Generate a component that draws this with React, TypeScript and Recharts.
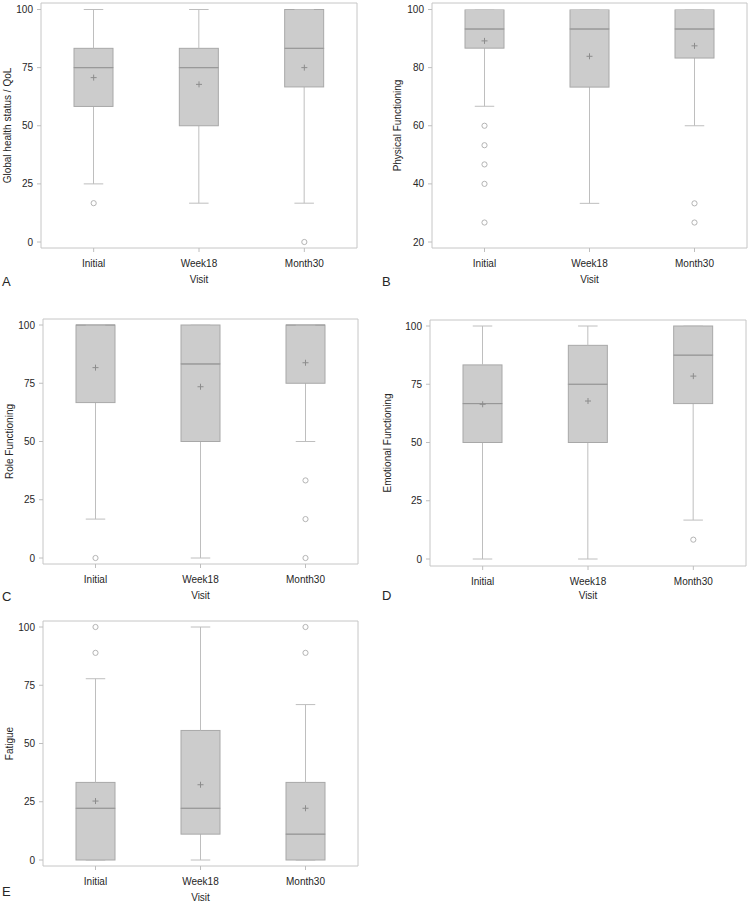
import { ComposedChart, Bar, Line, XAxis, YAxis } from "recharts"

const visits = ["Initial", "Week18", "Month30"]

// A - Global health status / QoL
const qolLow = [25, 16.7, 16.7]
const qolQ1 = [58.3, 50, 66.7]
const qolMedian = [75, 75, 83.3]
const qolQ3 = [83.3, 83.3, 100]
const qolHigh = [100, 100, 100]
const qolMean = [70.7, 67.8, 75]
const qolOutliers = [[16.7], [], [0]]

// B - Physical Functioning
const pfLow = [66.7, 33.3, 60]
const pfQ1 = [86.7, 73.3, 83.3]
const pfMedian = [93.3, 93.3, 93.3]
const pfQ3 = [100, 100, 100]
const pfHigh = [100, 100, 100]
const pfMean = [89.2, 83.9, 87.5]
const pfOutliers = [[60, 53.3, 46.7, 40, 26.7], [], [33.3, 26.7]]

// C - Role Functioning
const rfLow = [16.7, 0, 50]
const rfQ1 = [66.7, 50, 75]
const rfMedian = [100, 83.3, 100]
const rfQ3 = [100, 100, 100]
const rfHigh = [100, 100, 100]
const rfMean = [81.7, 73.5, 83.8]
const rfOutliers = [[0], [], [33.3, 16.7, 0]]

// D - Emotional Functioning
const efLow = [0, 0, 16.7]
const efQ1 = [50, 50, 66.7]
const efMedian = [66.7, 75, 87.5]
const efQ3 = [83.3, 91.7, 100]
const efHigh = [100, 100, 100]
const efMean = [66.4, 67.8, 78.5]
const efOutliers = [[], [], [8.3]]

// E - Fatigue
const faLow = [0, 0, 0]
const faQ1 = [0, 11.1, 0]
const faMedian = [22.2, 22.2, 11.1]
const faQ3 = [33.3, 55.6, 33.3]
const faHigh = [77.8, 100, 66.7]
const faMean = [25.3, 32.3, 22.2]
const faOutliers = [[88.9, 100], [], [88.9, 100]]

const ticks25 = [0, 25, 50, 75, 100]
const ticks20 = [20, 40, 60, 80, 100]

const FRAME = "#c6c6c6"
const BOX_FILL = "#cccccc"
const BOX_EDGE = "#a8a8a8"
const MEDIAN = "#969696"
const WHISKER = "#bebebe"
const OUTLIER = "#b4b4b4"
const MEAN = "#8c8c8c"
const TEXT = "#262626"
const MAX_OUT = 5

function buildRows(
  low: number[],
  q1: number[],
  med: number[],
  q3: number[],
  high: number[],
  mean: number[],
  outliers: number[][]
) {
  return visits.map((visit, i) => {
    const row: Record<string, any> = {
      visit,
      base: low[i],
      lowW: q1[i] - low[i],
      lowBox: med[i] - q1[i],
      highBox: q3[i] - med[i],
      highW: high[i] - q3[i],
      mean: mean[i],
    }
    outliers[i].forEach((v, k) => {
      row[`o${k}`] = v
    })
    return row
  })
}

// margins already account for the 1px top x-axis and 1px right y-axis that draw the frame
const panels = [
  {
    letter: "A",
    title: "Global health status / QoL",
    rows: buildRows(qolLow, qolQ1, qolMedian, qolQ3, qolHigh, qolMean, qolOutliers),
    domain: [0, 100],
    ticks: ticks25,
    clip: false,
    left: 0, top: 0, width: 375, height: 300,
    margin: { top: 2, right: 17, bottom: 16, left: 0 },
    yWidth: 41, xHeight: 36, pad: { top: 6.5, bottom: 6 }, labelOffset: 7.5,
    letterPos: { left: 2, top: 275 },
  },
  {
    letter: "B",
    title: "Physical Functioning",
    rows: buildRows(pfLow, pfQ1, pfMedian, pfQ3, pfHigh, pfMean, pfOutliers),
    domain: [20, 100],
    ticks: ticks20,
    clip: true,
    left: 375, top: 0, width: 375, height: 300,
    margin: { top: 2, right: 2, bottom: 16, left: 0 },
    yWidth: 57, xHeight: 36, pad: { top: 6.5, bottom: 6 }, labelOffset: 22,
    letterPos: { left: 382, top: 275 },
  },
  {
    letter: "C",
    title: "Role Functioning",
    rows: buildRows(rfLow, rfQ1, rfMedian, rfQ3, rfHigh, rfMean, rfOutliers),
    domain: [0, 100],
    ticks: ticks25,
    clip: false,
    left: 0, top: 300, width: 375, height: 300,
    margin: { top: 18, right: 16, bottom: 0, left: 0 },
    yWidth: 43, xHeight: 36, pad: { top: 6, bottom: 6 }, labelOffset: 9,
    letterPos: { left: 2, top: 590 },
  },
  {
    letter: "D",
    title: "Emotional Functioning",
    rows: buildRows(efLow, efQ1, efMedian, efQ3, efHigh, efMean, efOutliers),
    domain: [0, 100],
    ticks: ticks25,
    clip: false,
    left: 375, top: 300, width: 375, height: 300,
    margin: { top: 19, right: 3, bottom: 0, left: 0 },
    yWidth: 55, xHeight: 34, pad: { top: 6, bottom: 7 }, labelOffset: 12.5,
    letterPos: { left: 382, top: 589 },
  },
  {
    letter: "E",
    title: "Fatigue",
    rows: buildRows(faLow, faQ1, faMedian, faQ3, faHigh, faMean, faOutliers),
    domain: [0, 100],
    ticks: ticks25,
    clip: false,
    left: 0, top: 600, width: 375, height: 304,
    margin: { top: 20, right: 16, bottom: 2, left: 0 },
    yWidth: 43, xHeight: 36, pad: { top: 6, bottom: 6 }, labelOffset: 9,
    letterPos: { left: 2, top: 885 },
  },
]

const Empty = () => <g />

const LowWhisker = (p: any) => {
  const { x, y, width, height } = p
  if (x == null || y == null) return <g />
  const cx = x + width / 2
  const yb = y + height
  return (
    <g>
      <line x1={cx} x2={cx} y1={y} y2={yb} stroke={WHISKER} />
      <line x1={cx - width / 4} x2={cx + width / 4} y1={yb} y2={yb} stroke={WHISKER} />
    </g>
  )
}

const HighWhisker = (p: any) => {
  const { x, y, width, height } = p
  if (x == null || y == null) return <g />
  const cx = x + width / 2
  return (
    <g>
      <line x1={cx} x2={cx} y1={y} y2={y + height} stroke={WHISKER} />
      <line x1={cx - width / 4} x2={cx + width / 4} y1={y} y2={y} stroke={WHISKER} />
    </g>
  )
}

const LowerBox = (p: any) => {
  const { x, y, width, height } = p
  if (x == null || y == null) return <g />
  return <rect x={x} y={y} width={width} height={height} fill={BOX_FILL} stroke={BOX_EDGE} />
}

const UpperBox = (p: any) => {
  const { x, y, width, height } = p
  if (x == null || y == null) return <g />
  return (
    <g>
      <rect x={x} y={y} width={width} height={height} fill={BOX_FILL} stroke={BOX_EDGE} />
      <line x1={x} x2={x + width} y1={y + height} y2={y + height} stroke={MEDIAN} />
    </g>
  )
}

const MeanDot = (p: any) => {
  const { cx, cy } = p
  if (cx == null || cy == null) return <g key={p.key} />
  return (
    <g key={p.key}>
      <line x1={cx - 3} x2={cx + 3} y1={cy} y2={cy} stroke={MEAN} />
      <line x1={cx} x2={cx} y1={cy - 3} y2={cy + 3} stroke={MEAN} />
    </g>
  )
}

const OutlierDot = (p: any) => {
  const { cx, cy, value } = p
  if (cx == null || cy == null || value == null) return <g key={p.key} />
  return <circle key={p.key} cx={cx} cy={cy} r={2.6} fill="none" stroke={OUTLIER} />
}

function BoxPanel({ p }: { p: (typeof panels)[number] }) {
  const tick = { fontSize: 10, fill: TEXT }
  return (
    <>
      <div style={{ position: "absolute", left: p.left, top: p.top }}>
        <ComposedChart width={p.width} height={p.height} data={p.rows} margin={p.margin}>
          <XAxis
            dataKey="visit"
            height={p.xHeight}
            tickSize={4}
            tickMargin={8}
            tick={tick}
            tickLine={{ stroke: WHISKER }}
            axisLine={{ stroke: FRAME }}
            label={{ value: "Visit", position: "insideBottom", offset: 1, fontSize: 10, fill: TEXT }}
          />
          <XAxis
            xAxisId="top"
            orientation="top"
            dataKey="visit"
            height={1}
            tick={false}
            tickLine={false}
            axisLine={{ stroke: FRAME }}
          />
          <YAxis
            width={p.yWidth}
            domain={p.domain}
            ticks={p.ticks}
            allowDataOverflow={p.clip}
            padding={p.pad}
            tickSize={4}
            tickMargin={4}
            tick={tick}
            tickLine={{ stroke: WHISKER }}
            axisLine={{ stroke: FRAME }}
            label={{
              value: p.title,
              angle: -90,
              position: "insideLeft",
              offset: p.labelOffset,
              fontSize: 10,
              fill: TEXT,
              style: { textAnchor: "middle" },
            }}
          />
          <YAxis
            yAxisId="right"
            orientation="right"
            width={1}
            domain={p.domain}
            tick={false}
            tickLine={false}
            axisLine={{ stroke: FRAME }}
          />
          <Bar dataKey="base" stackId="box" barSize={39} shape={Empty} isAnimationActive={false} />
          <Bar dataKey="lowW" stackId="box" barSize={39} shape={LowWhisker} isAnimationActive={false} />
          <Bar dataKey="lowBox" stackId="box" barSize={39} shape={LowerBox} isAnimationActive={false} />
          <Bar dataKey="highBox" stackId="box" barSize={39} shape={UpperBox} isAnimationActive={false} />
          <Bar dataKey="highW" stackId="box" barSize={39} shape={HighWhisker} isAnimationActive={false} />
          <Line
            dataKey="mean"
            stroke="none"
            dot={MeanDot}
            activeDot={false}
            legendType="none"
            isAnimationActive={false}
          />
          {Array.from({ length: MAX_OUT }, (_, k) => (
            <Line
              key={k}
              dataKey={`o${k}`}
              stroke="none"
              dot={OutlierDot}
              activeDot={false}
              legendType="none"
              isAnimationActive={false}
            />
          ))}
        </ComposedChart>
      </div>
      <div
        style={{
          position: "absolute",
          left: p.letterPos.left,
          top: p.letterPos.top,
          fontSize: 13,
          lineHeight: "13px",
          color: TEXT,
        }}
      >
        {p.letter}
      </div>
    </>
  )
}

export default function App() {
  return (
    <div
      style={{
        position: "absolute",
        left: 0,
        top: 0,
        width: 750,
        height: 904,
        background: "#fff",
        fontFamily: '"Liberation Sans", Arial, sans-serif',
      }}
    >
      {panels.map((p) => (
        <BoxPanel key={p.letter} p={p} />
      ))}
    </div>
  )
}
